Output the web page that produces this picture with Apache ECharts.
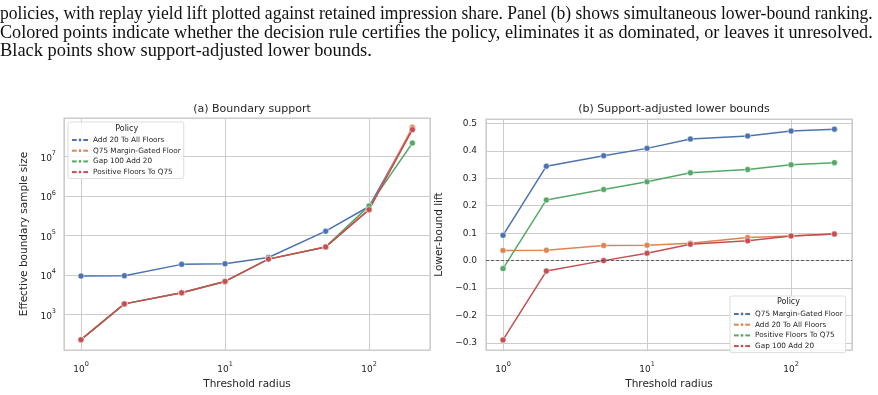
<!DOCTYPE html>
<html>
<head>
<meta charset="utf-8">
<script src="https://cdn.jsdelivr.net/npm/echarts@6/dist/echarts.min.js"></script>
<style>
  html, body { margin: 0; padding: 0; background: #fff; }
  #chart { width: 878px; height: 395px; }
</style>
</head>
<body>
<div id="chart"></div>
<script>
// threshold radius (x for both panels)
const radius = [1, 2, 5, 10, 20, 50, 100, 200];

// panel (a) effective boundary sample size
const sampleAdd20 = [9300, 9500, 18400, 19000, 27500, 128000, 540000, 50000000];
const sampleQ75 = [226, 1830, 3500, 6800, 25000, 51000, 450000, 55000000];
const sampleGap100 = [226, 1830, 3500, 6800, 25000, 51000, 560000, 22000000];
const samplePositive = [226, 1830, 3500, 6800, 25000, 51000, 450000, 48000000];

// panel (b) lower-bound lift
const lbQ75 = [0.092, 0.344, 0.382, 0.409, 0.443, 0.454, 0.472, 0.479];
const lbAdd20 = [0.037, 0.038, 0.055, 0.056, 0.063, 0.084, 0.090, 0.097];
const lbPositive = [-0.029, 0.221, 0.259, 0.287, 0.320, 0.332, 0.349, 0.357];
const lbGap100 = [-0.289, -0.038, 0.000, 0.027, 0.060, 0.072, 0.090, 0.097];

const caption = [
  'policies, with replay yield lift plotted against retained impression share. Panel (b) shows simultaneous lower-bound ranking.',
  'Colored points indicate whether the decision rule certifies the policy, eliminates it as dominated, or leaves it unresolved.',
  'Black points show support-adjusted lower bounds.'
];
const captionSqueeze = [0.955, 0.988, 1];

const C = { blue: '#4c72b0', orange: '#dd8452', green: '#55a868', red: '#c44e52' };
const txt = '#262626';
const gridCol = '#cccccc';
const font = 'DejaVu Sans';

let pairs = (ys) => radius.map((x, i) => [x, ys[i]]);

let powLabel = (lo, hi) => (v) => {
  let l = Math.log10(v);
  let e = Math.round(l);
  if (Math.abs(l - e) > 1e-6 || e < lo || e > hi) return '';
  return '{b|10}{s|' + e + '}';
};
const powRich = {
  b: { fontSize: 9, color: txt, fontFamily: font, lineHeight: 13, verticalAlign: 'bottom' },
  s: { fontSize: 6.5, color: txt, fontFamily: font, lineHeight: 8, verticalAlign: 'top' }
};

let line = (name, color, xi, data) => ({
  name: name,
  type: 'line',
  xAxisIndex: xi,
  yAxisIndex: xi,
  data: data,
  symbol: 'circle',
  symbolSize: 6,
  showSymbol: true,
  lineStyle: { color: color, width: 1.5 },
  itemStyle: { color: color, borderColor: '#fff', borderWidth: 0.5 },
  emphasis: { disabled: true }
});

let logX = (gi) => ({
  type: 'log', logBase: 10, gridIndex: gi,
  min: 0.762, max: 265,
  name: 'Threshold radius', nameLocation: 'middle', nameGap: 27,
  nameTextStyle: { color: txt, fontSize: 10.5, fontFamily: font },
  axisLine: { show: false }, axisTick: { show: false },
  axisLabel: { formatter: powLabel(0, 2), rich: powRich, margin: 11 },
  splitLine: { show: true, lineStyle: { color: gridCol, width: 1 } },
  minorSplitLine: { show: false }
});

let legendBox = (left, top, names, colors) => ({
  left: left, top: top,
  orient: 'vertical',
  data: names.map((n, i) => ({ name: n, itemStyle: { color: colors[i] }, lineStyle: { color: colors[i] } })),
  itemWidth: 16, itemHeight: 6, itemGap: 2.7,
  padding: [14, 3, 2.5, 3],
  backgroundColor: 'rgba(255,255,255,0.85)',
  borderColor: '#dddddd', borderWidth: 1, borderRadius: 2,
  textStyle: { fontSize: 7.3, color: txt, fontFamily: font, lineHeight: 8 },
  selectedMode: false
});

let option = {
  backgroundColor: '#fff',
  animation: false,
  textStyle: { fontFamily: font },
  title: [
    { text: '(a) Boundary support', left: 247, top: 99, textAlign: 'center',
      textStyle: { fontSize: 11, fontWeight: 'normal', color: txt, fontFamily: font } },
    { text: '(b) Support-adjusted lower bounds', left: 669, top: 99, textAlign: 'center',
      textStyle: { fontSize: 11, fontWeight: 'normal', color: txt, fontFamily: font } }
  ],
  graphic: caption.map((t, i) => ({
    type: 'text', x: 0, y: 23.6 + i * 18.4, z: 10, scaleX: captionSqueeze[i],
    style: { text: t, font: '18.4px "Liberation Serif"', fill: '#111', verticalAlign: 'bottom' }
  })).concat([
    { type: 'text', x: 126.7, y: 129.3, z: 100,
      style: { text: 'Policy', fontSize: 8, fontFamily: font, fill: txt, align: 'center', verticalAlign: 'middle' } },
    { type: 'text', x: 788.5, y: 302.3, z: 100,
      style: { text: 'Policy', fontSize: 8, fontFamily: font, fill: txt, align: 'center', verticalAlign: 'middle' } }
  ]),
  legend: [
    legendBox(68, 122,
      ['Add 20 To All Floors', 'Q75 Margin-Gated Floor', 'Gap 100 Add 20', 'Positive Floors To Q75'],
      [C.blue, C.orange, C.green, C.red]),
    legendBox(730, 296,
      ['Q75 Margin-Gated Floor', 'Add 20 To All Floors', 'Positive Floors To Q75', 'Gap 100 Add 20'],
      [C.blue, C.orange, C.green, C.red])
  ],
  grid: [
    { left: 64, top: 118, width: 366, height: 239, show: true, backgroundColor: '#fff',
      borderColor: gridCol, borderWidth: 1.25 },
    { left: 486, top: 119, width: 366, height: 238, show: true, backgroundColor: '#fff',
      borderColor: gridCol, borderWidth: 1.25 }
  ],
  xAxis: [logX(0), logX(1)],
  yAxis: [
    {
      type: 'log', logBase: 10, gridIndex: 0,
      min: 123, max: 9.5e7,
      name: 'Effective boundary sample size', nameLocation: 'middle', nameGap: 34,
      nameTextStyle: { color: txt, fontSize: 10.5, fontFamily: font },
      axisLine: { show: false }, axisTick: { show: false },
      axisLabel: { formatter: powLabel(3, 7), rich: powRich, margin: 8 },
      splitLine: { show: true, lineStyle: { color: gridCol, width: 1 } },
      minorSplitLine: { show: false }
    },
    {
      type: 'value', gridIndex: 1,
      min: -0.326, max: 0.516, splitNumber: 8, minInterval: 0.1, maxInterval: 0.1,
      name: 'Lower-bound lift', nameLocation: 'middle', nameGap: 41,
      nameTextStyle: { color: txt, fontSize: 10.5, fontFamily: font },
      axisLine: { show: false }, axisTick: { show: false },
      axisLabel: {
        color: txt, fontSize: 9, fontFamily: font, margin: 9,
        showMinLabel: false, showMaxLabel: false,
        formatter: (v) => {
          let k = Math.round(v * 10);
          if (Math.abs(v * 10 - k) > 1e-6) return '';
          return (k / 10).toFixed(1).replace('-', '\u2212');
        }
      },
      splitLine: { show: true, lineStyle: { color: gridCol, width: 1 } }
    }
  ],
  series: [
    line('Add 20 To All Floors', C.blue, 0, pairs(sampleAdd20)),
    line('Q75 Margin-Gated Floor', C.orange, 0, pairs(sampleQ75)),
    line('Gap 100 Add 20', C.green, 0, pairs(sampleGap100)),
    line('Positive Floors To Q75', C.red, 0, pairs(samplePositive)),

    Object.assign(line('Q75 Margin-Gated Floor', C.blue, 1, pairs(lbQ75)), {
      markLine: {
        silent: true, symbol: 'none', label: { show: false },
        lineStyle: { type: [3, 2], color: '#444', width: 0.8 },
        data: [{ yAxis: 0 }]
      }
    }),
    line('Add 20 To All Floors', C.orange, 1, pairs(lbAdd20)),
    line('Positive Floors To Q75', C.green, 1, pairs(lbPositive)),
    line('Gap 100 Add 20', C.red, 1, pairs(lbGap100))
  ]
};

let chart = echarts.init(document.getElementById('chart'));
chart.setOption(option);
</script>
</body>
</html>
